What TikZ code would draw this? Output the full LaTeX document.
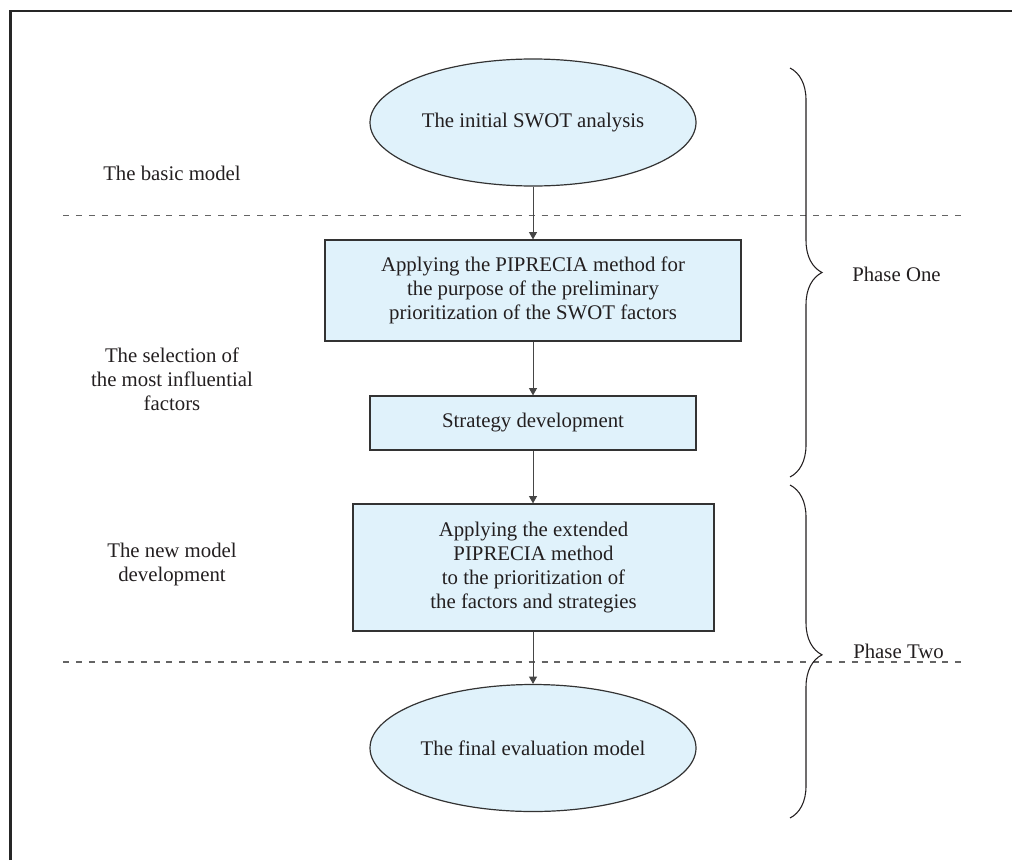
\documentclass[tikz,border=0pt]{standalone}
\usepackage{fontspec}
\setmainfont{Liberation Serif}
\usetikzlibrary{arrows.meta,shapes.geometric,decorations.pathreplacing}
\definecolor{boxfill}{RGB}{224,242,251}
\definecolor{boxline}{RGB}{51,51,51}
\definecolor{txt}{RGB}{35,31,32}
\definecolor{dashc}{RGB}{100,100,100}
\definecolor{arrc}{RGB}{70,70,70}
\tikzset{
  every node/.style={text=txt, font=\fontsize{15.6}{18}\selectfont},
  ovalnode/.style={ellipse, draw=boxline, fill=boxfill, line width=0.9pt, inner sep=0pt,
    minimum width=244.5pt, minimum height=95.25pt, align=center},
  boxnode/.style={rectangle, draw=boxline, fill=boxfill, line width=0.9pt, inner sep=0pt, align=center},
  sidelabel/.style={align=center, inner sep=0pt},
  phaselabel/.style={anchor=west, inner sep=0pt},
  flowarrow/.style={draw=arrc, line width=0.75pt, -{Triangle[length=5.5pt,width=6pt]}},
  sepline/.style={draw=dashc, line width=1pt, dash pattern=on 4.5pt off 5.2pt},
  bracepath/.style={draw=txt, line width=0.8pt, decorate},
}
\begin{document}
\begin{tikzpicture}[x=0.75pt, y=-0.75pt]
\useasboundingbox (0,0) rectangle (1012,860);
% frame (top and left edges visible)
\draw[line width=1.9pt, draw=black!85] (10.5,860) -- (10.5,11) -- (1012,11);

% separators
\coordinate (s1a) at (63,215.5);
\coordinate (s1b) at (968,215.5);
\coordinate (s2a) at (63,662);
\coordinate (s2b) at (968,662);
\draw[sepline] (s1a) -- (s1b);
\draw[sepline] (s2a) -- (s2b);

% flow nodes
\node[ovalnode] (e1) at (533,122.5) {The initial SWOT analysis};
\node[boxnode, minimum width=312pt, minimum height=75.75pt] (b1) at (533,290.5)
  {Applying the PIPRECIA method for\\the purpose of the preliminary\\prioritization of the SWOT factors};
\node[boxnode, minimum width=244.5pt, minimum height=40.5pt] (b2) at (533,423) {Strategy development};
\node[boxnode, minimum width=270.75pt, minimum height=95.25pt] (b3) at (533.5,567.5)
  {Applying the extended\\PIPRECIA method\\to the prioritization of\\the factors and strategies};
\node[ovalnode] (e2) at (533,748) {The final evaluation model};

\draw[flowarrow] (e1.south) -- (b1.north);
\draw[flowarrow] (b1.south) -- (b2.north);
\draw[flowarrow] (b2.south) -- (b3.north -| b2.south);
\draw[flowarrow] (b3.south -| b2.south) -- (e2.north);

% left labels
\node[sidelabel] (l1) at (172,173) {The basic model};
\node[sidelabel] (l2) at (172,379) {The selection of\\the most influential\\factors};
\node[sidelabel] (l3) at (172,564) {The new model\\development};

% braces
\coordinate (br1a) at (790,68);
\coordinate (br1b) at (790,477);
\coordinate (br2a) at (790,485);
\coordinate (br2b) at (790,818);
\draw[bracepath, decoration={brace, amplitude=24pt}] (br1a) -- (br1b);
\draw[bracepath, decoration={brace, amplitude=24pt, aspect=0.51}] (br2a) -- (br2b);

\node[phaselabel] (p1) at (852,274) {Phase One};
\node[phaselabel] (p2) at (853,651) {Phase Two};
\end{tikzpicture}
\end{document}
